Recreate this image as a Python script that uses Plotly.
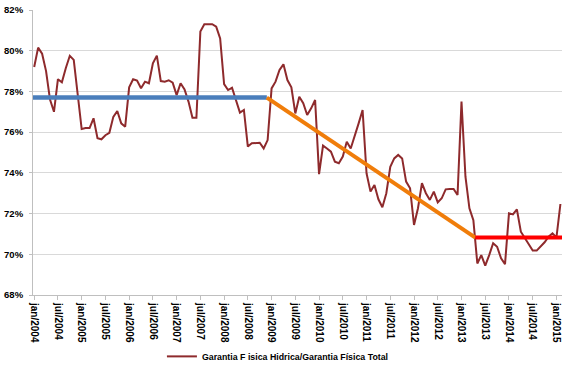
import plotly.graph_objects as go

# Monthly ratio, jan/2004 .. fev/2015 (month index 0..133)
values = [
    79.2, 80.15, 79.85, 79.0, 77.6, 77.0, 78.6, 78.45, 79.15, 79.75, 79.55, 77.7,
    76.15, 76.2, 76.2, 76.68, 75.7, 75.65, 75.85, 75.97, 76.75, 77.04, 76.43, 76.27,
    78.2, 78.6, 78.53, 78.16, 78.48, 78.4, 79.38, 79.76, 78.51, 78.48, 78.55, 78.43,
    77.82, 78.4, 78.1, 77.5, 76.71, 76.71, 80.94, 81.3, 81.3, 81.3, 81.18, 80.6,
    78.36, 78.07, 78.18, 77.58, 76.96, 77.09, 75.29, 75.45, 75.48, 75.48, 75.2, 75.61,
    78.15, 78.48, 79.05, 79.33, 78.56, 78.2, 76.92, 77.74, 77.42, 76.84, 77.17, 77.58,
    73.94, 75.34, 75.2, 75.04, 74.55, 74.47, 74.8, 75.53, 75.2, 75.78, 76.43, 77.09,
    73.98, 73.08, 73.4, 72.7, 72.31, 73.0, 74.3, 74.71, 74.88, 74.71, 73.57, 73.24,
    71.44, 72.26, 73.49, 73.0, 72.67, 73.08, 72.55, 72.75, 73.19, 73.21, 73.21, 72.91,
    77.5, 73.81, 72.26, 71.68, 69.55, 69.96, 69.44, 69.96, 70.54, 70.37, 69.8, 69.52,
    72.01, 71.96, 72.21, 71.11, 70.78, 70.46, 70.18, 70.18, 70.37, 70.59, 70.86, 71.03,
    70.83, 72.47,
]
months = list(range(len(values)))

tick_vals = list(range(0, 133, 6))
tick_text = []
for yr in range(2004, 2016):
    tick_text.append(f"jan/{yr}")
    tick_text.append(f"jul/{yr}")
tick_text = tick_text[:len(tick_vals)]

y_tick_vals = [68, 70, 72, 74, 76, 78, 80, 82]
y_tick_text = ["68%", "70%", "72%", "74%", "76%", "78%", "80%", "82%"]

# Trend segments (month index, value)
blue_x = [-0.5, 58.8]
blue_y = [77.7, 77.7]
orange_x = [58.8, 111.5]
orange_y = [77.7, 70.82]
red_x = [111.5, 133.4]
red_y = [70.82, 70.82]

series_name = "Garantia F isica Hidrica/Garantia Física Total"

fig = go.Figure()
fig.add_trace(go.Scatter(x=months, y=values, mode="lines", name=series_name,
                         line=dict(color="#8E2A2C", width=2), showlegend=True))
fig.add_trace(go.Scatter(x=blue_x, y=blue_y, mode="lines", showlegend=False,
                         line=dict(color="#4A7EBB", width=4.5)))
fig.add_trace(go.Scatter(x=orange_x, y=orange_y, mode="lines", showlegend=False,
                         line=dict(color="#F07D0A", width=4)))
fig.add_trace(go.Scatter(x=red_x, y=red_y, mode="lines", showlegend=False,
                         line=dict(color="#FF0000", width=4)))

font_family = "Liberation Sans"
fig.update_layout(
    width=570, height=372,
    margin=dict(l=33, r=8, t=10, b=77),
    paper_bgcolor="white", plot_bgcolor="white",
    font=dict(family=font_family, color="black"),
    showlegend=True,
    legend=dict(orientation="h", x=0.463, xanchor="center",
                yref="container", y=0.003, yanchor="bottom",
                bgcolor="rgba(0,0,0,0)",
                font=dict(size=8.8, family=font_family, weight="bold"),
                itemwidth=30),
    xaxis=dict(range=[-0.3, 133.4], tickmode="array", tickvals=tick_vals, ticktext=tick_text,
               tickangle=90, ticks="outside", ticklen=4, tickcolor="#BFBFBF",
               showline=True, linecolor="#BFBFBF", linewidth=1, showgrid=False,
               zeroline=False, automargin=False, ticklabeloverflow="allow",
               ticklabelstandoff=1,
               tickfont=dict(size=10, family=font_family, weight="bold")),
    yaxis=dict(range=[68, 82], tickmode="array", tickvals=y_tick_vals, ticktext=y_tick_text,
               ticks="outside", ticklen=3, tickcolor="#BFBFBF",
               showline=True, linecolor="#BFBFBF", linewidth=1,
               showgrid=True, gridcolor="#D9D9D9", gridwidth=1, zeroline=False,
               automargin=False, ticklabelstandoff=4, ticklabeloverflow="allow",
               tickfont=dict(size=9.5, family=font_family, weight="bold")),
)

fig.write_html("out.html", config={"displayModeBar": False},
               post_script="document.body.style.margin='0';")
